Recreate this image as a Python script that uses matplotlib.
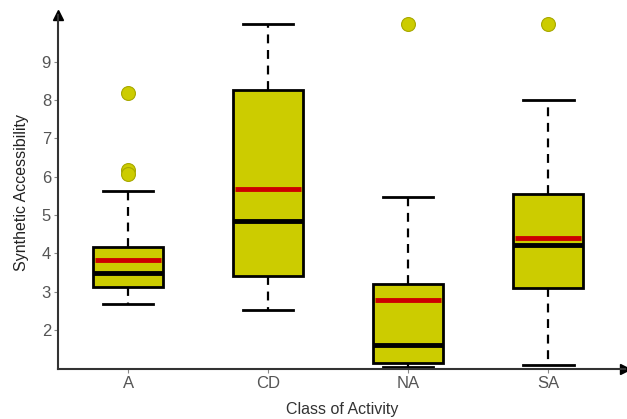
import matplotlib
matplotlib.use("Agg")
import matplotlib.pyplot as plt

plt.rcParams['font.family'] = ['Liberation Sans', 'DejaVu Sans']

classes = ["A", "CD", "NA", "SA"]
whis_lo = [2.67, 2.52, 1.03, 1.08]
q1 = [3.12, 3.42, 1.15, 3.11]
medians = [3.50, 4.85, 1.60, 4.23]
means = [3.82, 5.68, 2.79, 4.41]
q3 = [4.17, 8.26, 3.20, 5.54]
whis_hi = [5.63, 10.0, 5.48, 8.0]
outliers = [[8.18, 6.19, 6.08], [], [10.0], [10.0]]

fill = "#CCCC00"

stats = []
for i, c in enumerate(classes):
    stats.append(dict(label=c, whislo=whis_lo[i], q1=q1[i], med=medians[i],
                      q3=q3[i], whishi=whis_hi[i], fliers=outliers[i]))

fig = plt.figure(figsize=(6.27, 4.19), dpi=100)
ax = fig.add_axes([0.0925, 0.119, 0.905, 0.845])

bp = ax.bxp(stats, positions=range(4), widths=0.5, patch_artist=True,
            showfliers=True,
            boxprops=dict(facecolor=fill, edgecolor="black", linewidth=2),
            medianprops=dict(color="black", linewidth=3.5),
            whiskerprops=dict(color="black", linewidth=1.6, linestyle=(0, (4, 3))),
            capprops=dict(color="black", linewidth=2),
            capwidths=0.36,
            flierprops=dict(marker="o", markersize=10, markerfacecolor=fill,
                            markeredgecolor="#A8A800", markeredgewidth=0.8))

# mean lines in red
for i in range(4):
    ax.plot([i - 0.235, i + 0.235], [means[i], means[i]], color="#CC0000",
            linewidth=3.5, solid_capstyle="butt", zorder=3)

ax.set_xlim(-0.5, 3.55)
ax.set_ylim(0.98, 10.22)
ax.set_yticks(range(2, 10))
ax.set_xticks(range(4))
ax.set_xticklabels(classes)

for s in ["top", "right"]:
    ax.spines[s].set_visible(False)
for s in ["left", "bottom"]:
    ax.spines[s].set_color("#333333")
    ax.spines[s].set_linewidth(1.5)

ax.tick_params(axis="both", colors="#888888", labelcolor="#555555",
               labelsize=12, length=3, width=0.8, pad=2)

# axis arrows
ax.plot(1, 0, ">k", transform=ax.transAxes, clip_on=False, markersize=7)
ax.plot(0, 1, "^k", transform=ax.transAxes, clip_on=False, markersize=7)

ax.set_ylabel("Synthetic Accessibility", fontsize=11.5, color="#222222", labelpad=9)
ax.set_xlabel("Class of Activity", fontsize=11.5, color="#333333", labelpad=8)

fig.savefig("out.png", dpi=100)
